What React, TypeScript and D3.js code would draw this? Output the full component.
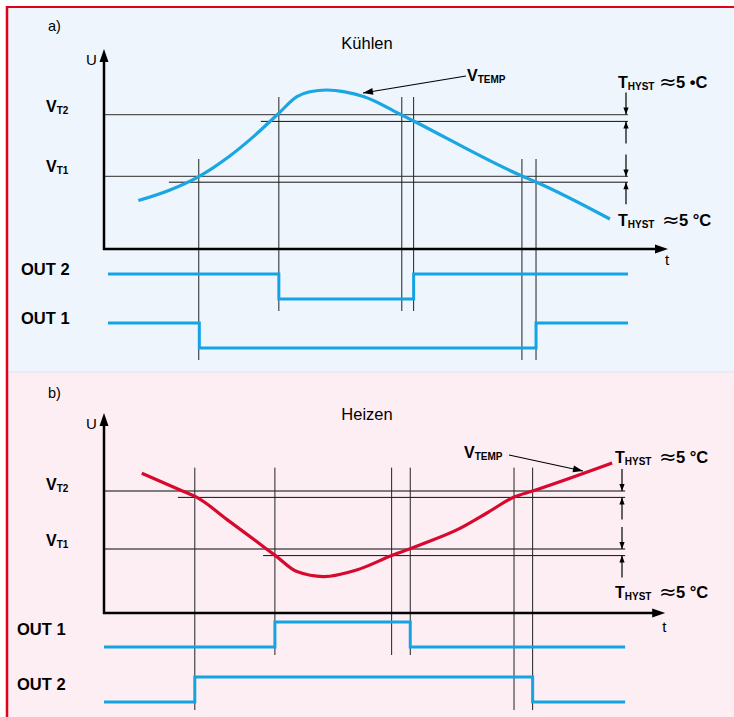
import * as d3 from 'd3';

const W = 734;
const H = 717;
const FONT = "'Liberation Sans', Arial, Helvetica, sans-serif";
const WAVE = '#14a3e3';

// a) Kühlen  (t in 0..100, U in 0..100)
const coolCurveT = [6.1, 11.7, 16.8, 22.3, 26.5, 31.0, 34.2, 36.5, 39.5, 42.7, 46.0, 52.8, 54.9, 74.1, 76.6, 89.7];
const coolCurveU = [24.2, 29.5, 36.2, 46.5, 56.2, 67.9, 76.2, 78.6, 79.5, 78.6, 76.3, 67, 64, 36.5, 33.5, 15];
const coolLevels = [67.2, 63.8, 36.3, 33.4];
const coolLevelFrom = [0, 27.8, 0, 11.5];
const coolMarks = [16.8, 31.0, 52.8, 54.9, 74.1, 76.6];
const coolMarkTop = [45, 76, 76, 76, 45, 45];
const coolMarkRow = [1, 0, 0, 0, 1, 1];
const coolOutNames = ['OUT 2', 'OUT 1'];
const coolOutEdges = [[0.7, 31.0, 54.9, 92.9], [0.7, 16.9, 76.6, 92.9]];
const coolOutLevels = [[1, 0, 1], [1, 0, 1]];

// b) Heizen
const heatCurveT = [6.7, 13.5, 16.4, 22.3, 30.4, 34.2, 38.9, 44.8, 51.0, 56.0, 63.1, 67.9, 72.7, 76.0, 90.1];
const heatCurveU = [69.9, 61.5, 57.9, 45.7, 28.7, 20.7, 18.2, 21.5, 28.7, 34, 42.3, 50, 58, 61, 75];
const heatLevels = [61, 57.8, 32, 28.7];
const heatLevelFrom = [0, 13.1, 0, 28.2];
const heatMarks = [16.1, 30.3, 51.0, 54.3, 72.7, 76.0];
const heatMarkTop = [72.7, 72.7, 72.7, 72.7, 72.7, 72.7];
const heatMarkRow = [1, 0, 0, 0, 1, 1];
const heatOutNames = ['OUT 1', 'OUT 2'];
const heatOutEdges = [[0, 30.3, 54.3, 92.4], [0, 16.1, 76.0, 92.4]];
const heatOutLevels = [[0, 1, 0], [0, 1, 0]];

const panelA = {
  top: 6, bottom: 372, bg: '#eef5fc', letter: 'a)', title: 'Kühlen', letterY: 31, titleY: 49,
  y0: 249, axisEnd: 100, tY: 265, uY: 65, vtY: [112, 172], color: '#1aa5e3',
  curveT: coolCurveT, curveU: coolCurveU, levels: coolLevels, levelFrom: coolLevelFrom, levelEnd: 92.9,
  marks: coolMarks, markTop: coolMarkTop, markRow: coolMarkRow,
  outNames: coolOutNames, outEdges: coolOutEdges, outLevels: coolOutLevels,
  rows: [{ hi: 274, lo: 299, base: 275, bottom: 311 }, { hi: 323, lo: 348, base: 324, bottom: 360 }],
  outX: 21, arrowX: 626,
  vtemp: { x: 467, y: 81, from: [466, 76], to: [363, 93] },
  hyst: [{ x: 618, y: 88, approx: 659, deg: '5 •C' }, { x: 618, y: 226, approx: 662, deg: '5 °C' }],
};

const panelB = {
  top: 372, bottom: 717, bg: '#fdeef3', letter: 'b)', title: 'Heizen', letterY: 398, titleY: 420,
  y0: 613, axisEnd: 99.5, tY: 632, uY: 429, vtY: [490, 546], color: '#d8092e',
  curveT: heatCurveT, curveU: heatCurveU, levels: heatLevels, levelFrom: heatLevelFrom, levelEnd: 92.4,
  marks: heatMarks, markTop: heatMarkTop, markRow: heatMarkRow,
  outNames: heatOutNames, outEdges: heatOutEdges, outLevels: heatOutLevels,
  rows: [{ hi: 622, lo: 647, base: 635, bottom: 655 }, { hi: 677, lo: 702, base: 690, bottom: 710 }],
  outX: 17, arrowX: 622,
  vtemp: { x: 464, y: 458, from: [509, 455], to: [583, 471] },
  hyst: [{ x: 615, y: 463, approx: 659, deg: '5 °C' }, { x: 615, y: 598, approx: 659, deg: '5 °C' }],
};

function arrowHead(tx: number, ty: number, fx: number, fy: number, len: number, half: number) {
  const a = Math.atan2(ty - fy, tx - fx);
  const bx = tx - len * Math.cos(a);
  const by = ty - len * Math.sin(a);
  const px = -Math.sin(a) * half;
  const py = Math.cos(a) * half;
  return `M${tx},${ty}L${bx + px},${by + py}L${bx - px},${by - py}Z`;
}

function Panel({ p }: { p: any }) {
  const x = d3.scaleLinear().domain([0, 100]).range([104, 668]);
  const y = d3.scaleLinear().domain([0, 100]).range([p.y0, p.y0 - 200]);

  const curve = d3.line<number>()
    .x((_, i) => x(p.curveT[i]))
    .y((d) => y(d))
    .curve(d3.curveMonotoneX);

  const step = d3.line<[number, number]>()
    .curve(d3.curveStepAfter);

  const xEnd = x(p.axisEnd);
  const yTop = y(100);

  const hystArrows = p.levels.map((lv: number, i: number) => {
    const ty = y(lv);
    const down = i % 2 === 0;
    const fy = down ? ty - 22 : ty + 22;
    return { ty, fy };
  });

  return (
    <g>
      <rect x={6} y={p.top} width={W - 6} height={p.bottom - p.top} fill={p.bg} />
      <text x={48} y={p.letterY} fontSize={14.5}>{p.letter}</text>
      <text x={367} y={p.titleY} fontSize={16.5} textAnchor="middle">{p.title}</text>

      {/* threshold lines */}
      {p.levels.map((lv: number, i: number) => (
        <line key={'lv' + i} x1={x(p.levelFrom[i])} x2={x(p.levelEnd)} y1={y(lv)} y2={y(lv)}
          stroke={i % 2 === 0 ? '#555' : '#111'} strokeWidth={i % 2 === 0 ? 1.4 : 1} />
      ))}

      {/* switching marks */}
      {p.marks.map((t: number, i: number) => (
        <line key={'mk' + i} x1={x(t)} x2={x(t)} y1={y(p.markTop[i])} y2={p.rows[p.markRow[i]].bottom}
          stroke="#222" strokeWidth={1} />
      ))}

      {/* axes */}
      <line x1={104} x2={104} y1={p.y0 + 1} y2={yTop + 8} stroke="#000" strokeWidth={2.5} />
      <line x1={103} x2={xEnd - 8} y1={p.y0} y2={p.y0} stroke="#000" strokeWidth={2.5} />
      <path d={arrowHead(104, yTop, 104, p.y0, 13, 4.5)} fill="#000" />
      <path d={arrowHead(xEnd, p.y0, 104, p.y0, 13, 4.5)} fill="#000" />
      <text x={86} y={p.uY} fontSize={15}>U</text>
      <text x={xEnd - 3} y={p.tY} fontSize={15}>t</text>

      {/* threshold labels */}
      {['T2', 'T1'].map((s, i) => (
        <text key={s} x={46} y={p.vtY[i]} fontSize={16} fontWeight="bold">
          V<tspan fontSize={10} dy={2}>{s}</tspan>
        </text>
      ))}

      {/* temperature curve */}
      <path d={curve(p.curveU) || ''} fill="none" stroke={p.color} strokeWidth={3.2} strokeLinecap="butt" />

      {/* V_TEMP label */}
      <text x={p.vtemp.x} y={p.vtemp.y} fontSize={16} fontWeight="bold">
        V<tspan fontSize={10} dy={2}>TEMP</tspan>
      </text>
      <line x1={p.vtemp.from[0]} y1={p.vtemp.from[1]} x2={p.vtemp.to[0]} y2={p.vtemp.to[1]} stroke="#000" strokeWidth={1.2} />
      <path d={arrowHead(p.vtemp.to[0], p.vtemp.to[1], p.vtemp.from[0], p.vtemp.from[1], 10, 3.5)} fill="#000" />

      {/* hysteresis arrows */}
      {hystArrows.map((a: any, i: number) => (
        <g key={'ha' + i}>
          <line x1={p.arrowX} x2={p.arrowX} y1={a.fy} y2={a.ty} stroke="#000" strokeWidth={1.2} />
          <path d={arrowHead(p.arrowX, a.ty, p.arrowX, a.fy, 7, 2.6)} fill="#000" />
        </g>
      ))}
      {p.hyst.map((h: any, i: number) => (
        <g key={'hy' + i}>
          <text x={h.x} y={h.y} fontSize={16} fontWeight="bold">
            T<tspan fontSize={10} dy={2}>HYST</tspan>
          </text>
          <text x={h.approx} y={h.y + 1} fontSize={21} fontFamily="'DejaVu Sans', sans-serif">≈</text>
          <text x={h.approx + 17} y={h.y} fontSize={16.5} fontWeight="bold">{h.deg}</text>
        </g>
      ))}

      {/* digital outputs */}
      {p.outNames.map((name: string, r: number) => {
        const row = p.rows[r];
        const ly = d3.scaleLinear().domain([0, 1]).range([row.lo, row.hi]);
        const edges: number[] = p.outEdges[r];
        const lv: number[] = p.outLevels[r];
        const pts: [number, number][] = edges.map((t, i) => [x(t), ly(lv[Math.min(i, lv.length - 1)])]);
        return (
          <g key={name}>
            <text x={p.outX} y={row.base} fontSize={16.5} fontWeight="bold">{name}</text>
            <path d={step(pts) || ''} fill="none" stroke={WAVE} strokeWidth={3} />
          </g>
        );
      })}
    </g>
  );
}

export default function App() {
  return (
    <svg width={W} height={H} style={{ position: 'absolute', left: 0, top: 0, fontFamily: FONT }}>
      <rect x={0} y={0} width={W} height={H} fill="#fff" />
      <Panel p={panelA} />
      <Panel p={panelB} />
      <line x1={6} x2={W} y1={372} y2={372} stroke="#dde3ea" strokeWidth={1} />
      <line x1={6} x2={W} y1={7} y2={7} stroke="#e2001a" strokeWidth={2} />
      <line x1={7} x2={7} y1={6} y2={H} stroke="#e2001a" strokeWidth={2.5} />
    </svg>
  );
}
